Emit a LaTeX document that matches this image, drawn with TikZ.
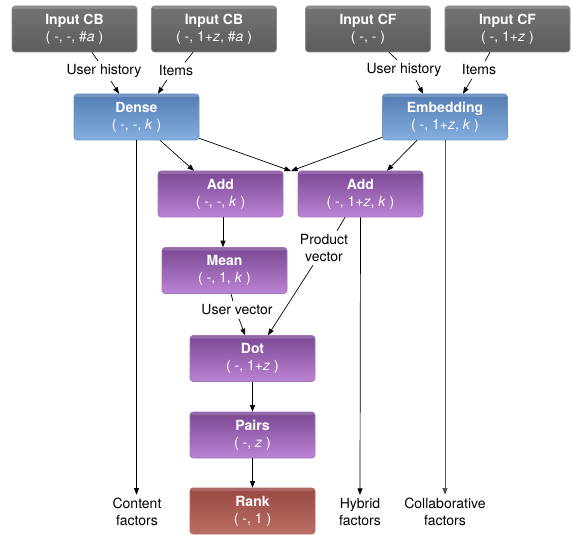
\documentclass[tikz,border=0pt]{standalone}
\usepackage{fontspec}
\setmainfont{TeX Gyre Heros}
\usetikzlibrary{arrows.meta}
\definecolor{gtop}{HTML}{747474}
\definecolor{gbot}{HTML}{5C5C5C}
\definecolor{gdraw}{HTML}{8C8C8C}
\definecolor{btop}{HTML}{547DB4}
\definecolor{bbot}{HTML}{84ADE0}
\definecolor{bdraw}{HTML}{6E94C8}
\definecolor{ptop}{HTML}{7A4893}
\definecolor{pbot}{HTML}{BB83D4}
\definecolor{pdraw}{HTML}{A474BC}
\definecolor{rtop}{HTML}{9A4842}
\definecolor{rbot}{HTML}{BA6E64}
\definecolor{rdraw}{HTML}{B06860}
\definecolor{lgray}{HTML}{555555}
\tikzset{
  box/.style={rounded corners=3pt, minimum width=125pt, minimum height=46pt,
    inner sep=0pt, text=white, align=center,
    font=\fontsize{14}{17}\selectfont, line width=0.6pt,
    path picture={\fill[white,opacity=0.18] (path picture bounding box.north west) rectangle ([yshift=-3pt]path picture bounding box.north east);}},
  graybox/.style={box, draw=gdraw, top color=gtop, bottom color=gbot},
  bluebox/.style={box, draw=bdraw, top color=btop, bottom color=bbot},
  purplebox/.style={box, draw=pdraw, top color=ptop, bottom color=pbot},
  redbox/.style={box, draw=rdraw, top color=rtop, bottom color=rbot},
  lbl/.style={inner sep=1pt, outer sep=2.5pt, align=center, font=\fontsize{14}{17}\selectfont},
  conn/.style={line width=0.7pt, black},
  arr/.style={conn, -{Triangle[length=6.5pt,width=5pt]}},
}
\newcommand{\ttl}[1]{\textbf{#1}}
\begin{document}
\begin{tikzpicture}[x=1pt,y=-1pt]
\useasboundingbox (0,0) rectangle (574,535);
% boxes
\node[graybox] (cb1) at (74.5,29) {\ttl{Input CB}\\( -, -, \#\textit{a} )};
\node[graybox] (cb2) at (214,29) {\ttl{Input CB}\\( -, 1+\textit{z}, \#\textit{a} )};
\node[graybox] (cf1) at (368,29) {\ttl{Input CF}\\( -, - )};
\node[graybox] (cf2) at (507.5,29) {\ttl{Input CF}\\( -, 1+\textit{z} )};
\node[bluebox] (dense) at (136.5,117) {\ttl{Dense}\\( -, -, \textit{k} )};
\node[bluebox] (emb) at (445,117) {\ttl{Embedding}\\( -, 1+\textit{z}, \textit{k} )};
\node[purplebox] (add1) at (220.5,194) {\ttl{Add}\\( -, -, \textit{k} )};
\node[purplebox] (add2) at (360.5,194) {\ttl{Add}\\( -, 1+\textit{z}, \textit{k} )};
\node[purplebox] (mean) at (224.5,270.5) {\ttl{Mean}\\( -, 1, \textit{k} )};
\node[purplebox] (dot) at (252.5,358.5) {\ttl{Dot}\\( -, 1+\textit{z} )};
\node[purplebox] (pairs) at (252.5,435) {\ttl{Pairs}\\( -, \textit{z} )};
\node[redbox] (rank) at (252.5,511) {\ttl{Rank}\\( -, 1 )};
% labels
\node[lbl] (uh1) at (104,71) {User history};
\node[lbl] (it1) at (176,71) {Items};
\node[lbl] (uh2) at (404,70) {User history};
\node[lbl] (it2) at (479,70) {Items};
\node[lbl] (prod) at (324,248) {Product\\vector};
\node[lbl] (uv) at (237,310) {User vector};
\node[lbl] (content) at (137,512) {Content\\factors};
\node[lbl] (hybrid) at (360,512) {Hybrid\\factors};
\node[lbl] (collab) at (445,512) {Collaborative\\factors};
\coordinate (merge) at (291,171);
% connectors
\draw[conn] ([xshift=17.5pt]cb1.south) -- ([xshift=-6pt]uh1.north);
\draw[arr] ([xshift=7pt]uh1.south) -- ([xshift=-17.5pt]dense.north);
\draw[conn] ([xshift=-21pt]cb2.south) -- ([xshift=9pt]it1.north);
\draw[arr] ([xshift=-9pt]it1.south) -- ([xshift=21.5pt]dense.north);
\draw[conn] ([xshift=21pt]cf1.south) -- ([xshift=-7pt]uh2.north);
\draw[arr] ([xshift=12pt]uh2.south) -- ([xshift=-22pt]emb.north);
\draw[conn] ([xshift=-17.5pt]cf2.south) -- ([xshift=6pt]it2.north);
\draw[arr] ([xshift=-7pt]it2.south) -- ([xshift=18pt]emb.north);
\draw[arr] ([xshift=23.5pt]dense.south) -- ([xshift=-26.5pt]add1.north);
\draw[arr] ([yshift=2pt]dense.south east) -- (merge);
\draw[arr] ([yshift=3pt]emb.south west) -- (merge);
\draw[arr] ([xshift=-28pt]emb.south) -- ([xshift=26.5pt]add2.north);
\draw[arr] (dense.south) -- (content.north -| dense.south);
\draw[arr, lgray] (emb.south) -- (collab.north);
\draw[arr] (add2.south) -- (hybrid.north);
\draw[arr] ([xshift=2.5pt]add1.south) -- ([xshift=-1.5pt]mean.north);
\draw[conn] ([xshift=-15.5pt]add2.south) -- ([xshift=13pt]prod.north);
\draw[arr] ([xshift=-11pt]prod.south) -- ([xshift=15.5pt]dot.north);
\draw[conn] ([xshift=6.5pt]mean.south) -- ([xshift=-4pt]uv.north);
\draw[arr] ([xshift=2pt]uv.south) -- ([xshift=-7.5pt]dot.north);
\draw[arr] (dot.south) -- (pairs.north);
\draw[arr] (pairs.south) -- (rank.north);
\end{tikzpicture}
\end{document}
